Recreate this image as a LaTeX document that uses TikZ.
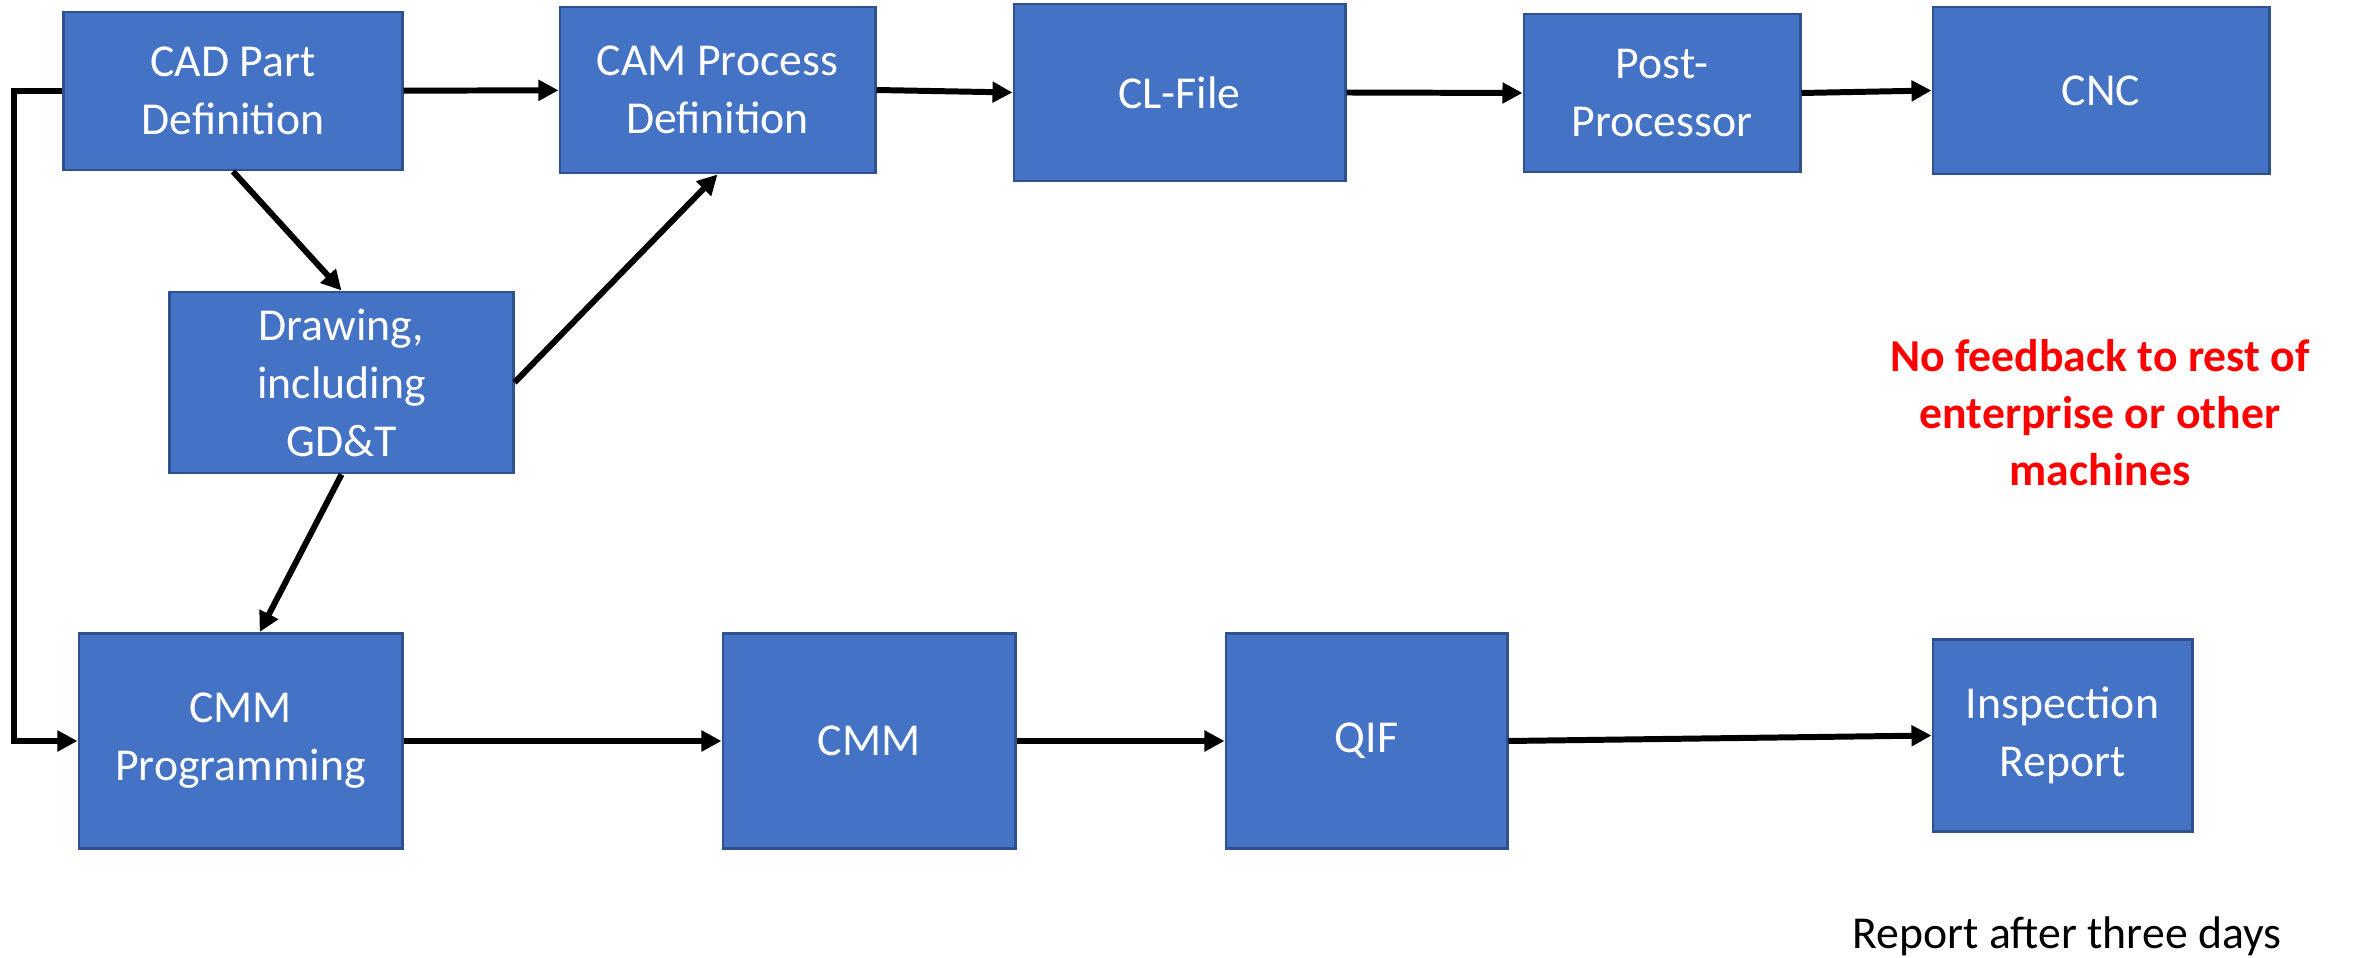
\documentclass[tikz,border=0pt]{standalone}
\usepackage{fontspec}
\setmainfont{Carlito}
\usetikzlibrary{arrows.meta}
\definecolor{boxblue}{HTML}{4472C4}
\definecolor{boxline}{HTML}{2F528F}
\tikzset{
    block/.style={draw=boxline, line width=0.8pt, fill=boxblue, text=white, align=center, inner sep=0pt, font=\fontsize{13}{16.5}\selectfont},
    flow/.style={->, >={Triangle[length=5.7pt,width=5.7pt]}, line width=1.7pt},
}
\begin{document}
\begin{tikzpicture}[x=0.01cm, y=-0.01cm]
        \useasboundingbox (0,0) rectangle (2369,958);
        \node[block, minimum width=3.38cm, minimum height=1.58cm] (cad) at (233,91) {CAD Part\\Definition};
        \node[block, minimum width=3.15cm, minimum height=1.66cm] (cam) at (717.5,90) {CAM Process\\Definition};
        \node[block, minimum width=3.31cm, minimum height=1.77cm] (clfile) at (1179.5,92.5) {CL-File};
        \node[block, minimum width=2.76cm, minimum height=1.58cm] (post) at (1662,93) {Post-\\Processor};
        \node[block, minimum width=3.36cm, minimum height=1.67cm] (cnc) at (2101,90.5) {CNC};
        \node[block, minimum width=3.43cm, minimum height=1.81cm] (drawing) at (341.5,382.5) {Drawing,\\including\\GD\&T};
        \node[block, minimum width=3.23cm, minimum height=2.15cm] (cmmprog) at (240.5,741) {CMM\\Programming};
        \node[block, minimum width=2.92cm, minimum height=2.15cm] (cmm) at (869,741) {CMM};
        \node[block, minimum width=2.81cm, minimum height=2.15cm] (qif) at (1366.5,741) {QIF};
        \node[block, minimum width=2.59cm, minimum height=1.92cm] (report) at (2062.5,735.5) {Inspection\\Report};
        \node[align=center, text=red, font=\fontsize{13}{16.2}\selectfont\bfseries] (nofeed) at (2100,413) {No feedback to rest of\\enterprise or other\\machines};
        \node[font=\fontsize{13}{16.2}\selectfont] (after) at (2067,936) {Report after three days};
        \coordinate (loop) at (14,91);
        \draw[flow] (cad) -- (cam);
        \draw[flow] (cam.east) -- (clfile.west);
        \draw[flow] (clfile.east) -- (post.west);
        \draw[flow] (post.east) -- (cnc.west);
        \draw[flow] (cad.south) -- (drawing.north);
        \draw[flow] (drawing.east) -- (cam.south);
        \draw[flow] (drawing.south) -- (cmmprog.80);
        \draw[flow] (cad.west) -- (loop) |- (cmmprog.west);
        \draw[flow] (cmmprog) -- (cmm);
        \draw[flow] (cmm) -- (qif);
        \draw[flow] (qif.east) -- (report.west);
    \end{tikzpicture}
\end{document}
